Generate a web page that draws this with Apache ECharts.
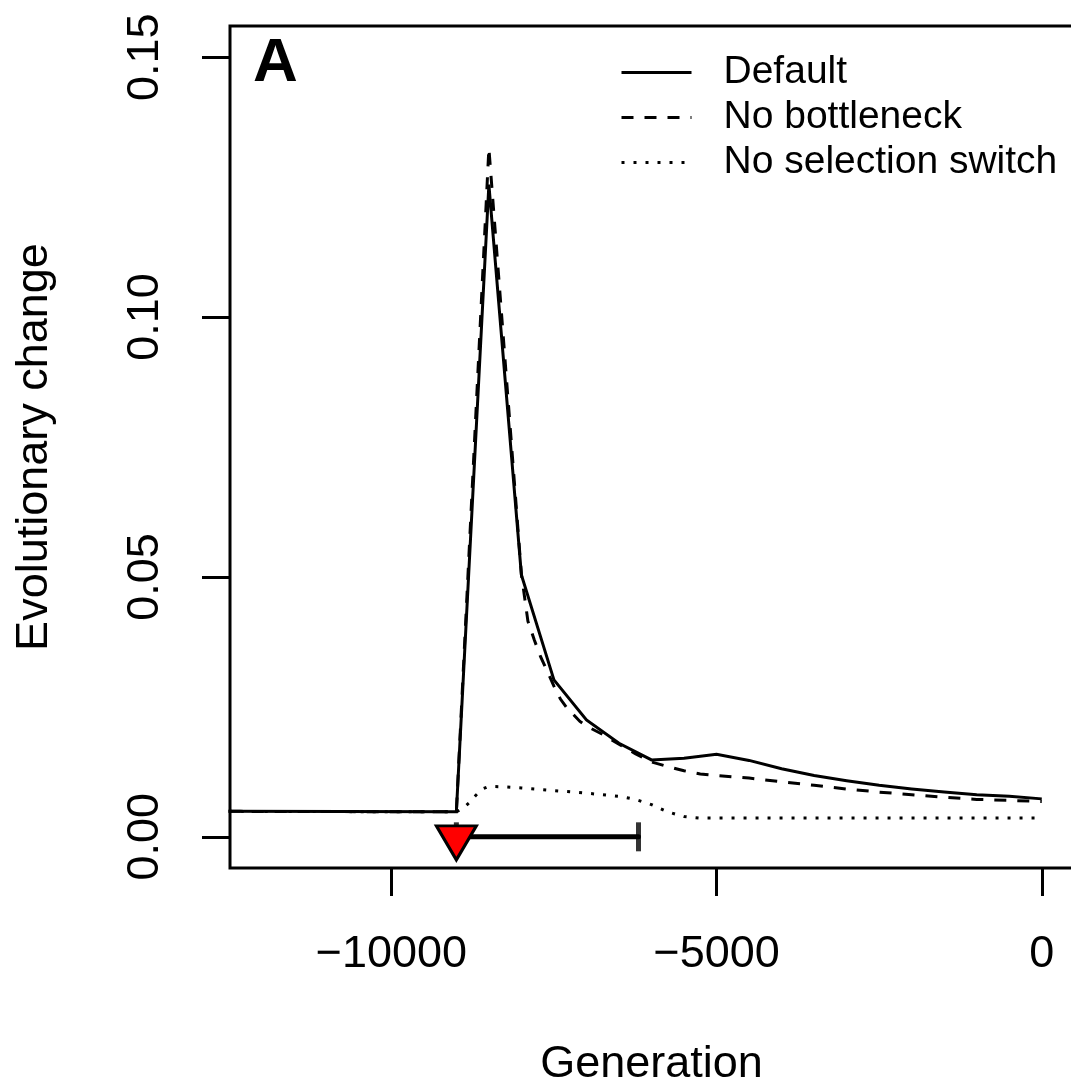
<!DOCTYPE html>
<html><head><meta charset="utf-8">
<script src="https://cdn.jsdelivr.net/npm/echarts@6/dist/echarts.min.js"></script>
<style>html,body{margin:0;padding:0;background:#fff}#c{width:1071px;height:1089px}</style>
</head><body><div id="c"></div>
<script>
// ---- data ----
const defaultX = [-12500, -9000, -8500, -8000, -7500, -7000, -6500, -6000, -5500, -5000, -4500, -4000, -3500, -3000, -2500, -2000, -1500, -1000, -500, 0];
const defaultY = [0.0049, 0.0048, 0.1255, 0.0504, 0.0302, 0.0225, 0.0180, 0.0148, 0.0151, 0.0159, 0.0147, 0.0131, 0.0118, 0.0108, 0.0099, 0.0092, 0.0086, 0.0081, 0.0078, 0.0073];

const noBottleneckX = [-12500, -9000, -8500, -8000, -7900, -7800, -7700, -7600, -7500, -7400, -7300, -7200, -7100, -7000, -6750, -6500, -6250, -6000, -5750, -5500, -5250, -5000, -4500, -4000, -3500, -3000, -2500, -2000, -1500, -1000, -500, 0];
const noBottleneckY = [0.0049, 0.0048, 0.1325, 0.0505, 0.0415, 0.0378, 0.0345, 0.0318, 0.0290, 0.0265, 0.0248, 0.0235, 0.0222, 0.0213, 0.0197, 0.0178, 0.0160, 0.0144, 0.0135, 0.0127, 0.0121, 0.0118, 0.0113, 0.0106, 0.0099, 0.0092, 0.0086, 0.0081, 0.0076, 0.0072, 0.0070, 0.0068];

const noSwitchX = [-12500, -9000, -8900, -8800, -8700, -8600, -8500, -8250, -8000, -7500, -7000, -6500, -6250, -6000, -5750, -5500, -5250, 0];
const noSwitchY = [0.0049, 0.0048, 0.0055, 0.0066, 0.0080, 0.0092, 0.0097, 0.0096, 0.0094, 0.0089, 0.0084, 0.0078, 0.0072, 0.0062, 0.0048, 0.0039, 0.0036, 0.0036];

const seriesNames = ['Default', 'No bottleneck', 'No selection switch'];
const xTicks = [-10000, -5000, 0];
const yTicks = [0, 0.05, 0.10, 0.15];
const markerPoint = [-9000, 0];
const intervalRange = [-9000, -6200];
const panelLabel = 'A';
const xTitle = 'Generation';
const yTitle = 'Evolutionary change';

// ---- chart ----
const zip = (xs, ys) => xs.map((x, i) => [x, ys[i]]);
const FONT = "'Liberation Sans', Arial, Helvetica, sans-serif";
const chart = echarts.init(document.getElementById('c'), null, {renderer: 'canvas'});

const lineSeries = (name, xs, ys, type) => ({
  name, type: 'line', data: zip(xs, ys), symbol: 'none', clip: true,
  lineStyle: {color: '#000', width: 3, type, cap: 'butt', join: 'miter'},
  itemStyle: {color: '#000'}, silent: true, animation: false, z: 3
});

chart.setOption({
  animation: false,
  backgroundColor: '#fff',
  grid: {left: 230, top: 26, width: 843, height: 842, show: true, borderColor: '#000', borderWidth: 3,
    backgroundColor: 'transparent', containLabel: false, outerBoundsMode: 'none'},
  xAxis: {
    type: 'value', min: -12480, max: 480,
    splitLine: {show: false}, axisLine: {show: false, onZero: false},
    axisTick: {show: true, inside: false, customValues: xTicks, length: 28, lineStyle: {color: '#000', width: 3}},
    axisLabel: {customValues: xTicks, fontSize: 45, fontFamily: FONT, color: '#000', margin: 64,
      formatter: v => String(v).replace('-', '\u2212')},
    name: xTitle, nameLocation: 'middle', nameGap: 174,
    nameTextStyle: {fontSize: 45, fontFamily: FONT, color: '#000'}
  },
  yAxis: {
    type: 'value', min: -0.006, max: 0.156,
    splitLine: {show: false}, axisLine: {show: false, onZero: false},
    axisTick: {show: true, inside: false, customValues: yTicks, length: 28, lineStyle: {color: '#000', width: 3}},
    axisLabel: {customValues: yTicks, rotate: 90, fontSize: 45, fontFamily: FONT, color: '#000', margin: 62,
      formatter: v => v.toFixed(2)},
    name: yTitle, nameLocation: 'middle', nameGap: 173,
    nameTextStyle: {fontSize: 45, fontFamily: FONT, color: '#000'}
  },
  legend: {
    data: seriesNames, orient: 'vertical', left: 620, top: 53, padding: 0,
    itemWidth: 70, itemHeight: 20, itemGap: 6, selectedMode: false,
    itemStyle: {opacity: 0, borderWidth: 0},
    lineStyle: {width: 3},
    textStyle: {fontSize: 39, fontFamily: FONT, color: '#000', padding: [0, 0, 0, 27]}
  },
  graphic: [{
    type: 'text', x: 275.5, y: 64, z: 10,
    style: {text: panelLabel, fontSize: 62, fontWeight: 'bold', fontFamily: FONT, fill: '#000', align: 'center', verticalAlign: 'middle'}
  }],
  series: [
    lineSeries(seriesNames[0], defaultX, defaultY, 'solid'),
    lineSeries(seriesNames[1], noBottleneckX, noBottleneckY, [12, 11]),
    lineSeries(seriesNames[2], noSwitchX, noSwitchY, [3, 9]),
    {
      name: 'interval', type: 'line', data: intervalRange.map(x => [x, markerPoint[1]]), symbol: 'none',
      lineStyle: {color: '#000', width: 5, cap: 'round'}, silent: true, z: 4
    },
    {
      name: 'caps', type: 'scatter', data: intervalRange.map(x => [x, markerPoint[1]]),
      symbol: 'rect', symbolSize: [5, 29], itemStyle: {color: '#000'}, silent: true, z: 4
    },
    {
      name: 'onset', type: 'scatter', data: [markerPoint],
      symbol: 'path://M0,0 L50,0 L25,43 Z', symbolSize: [40, 34], symbolOffset: [0, 6],
      symbolKeepAspect: false,
      itemStyle: {color: '#ff0000', borderColor: '#000', borderWidth: 3, opacity: 1}, silent: true, z: 5
    }
  ]
});
</script>
</body></html>
